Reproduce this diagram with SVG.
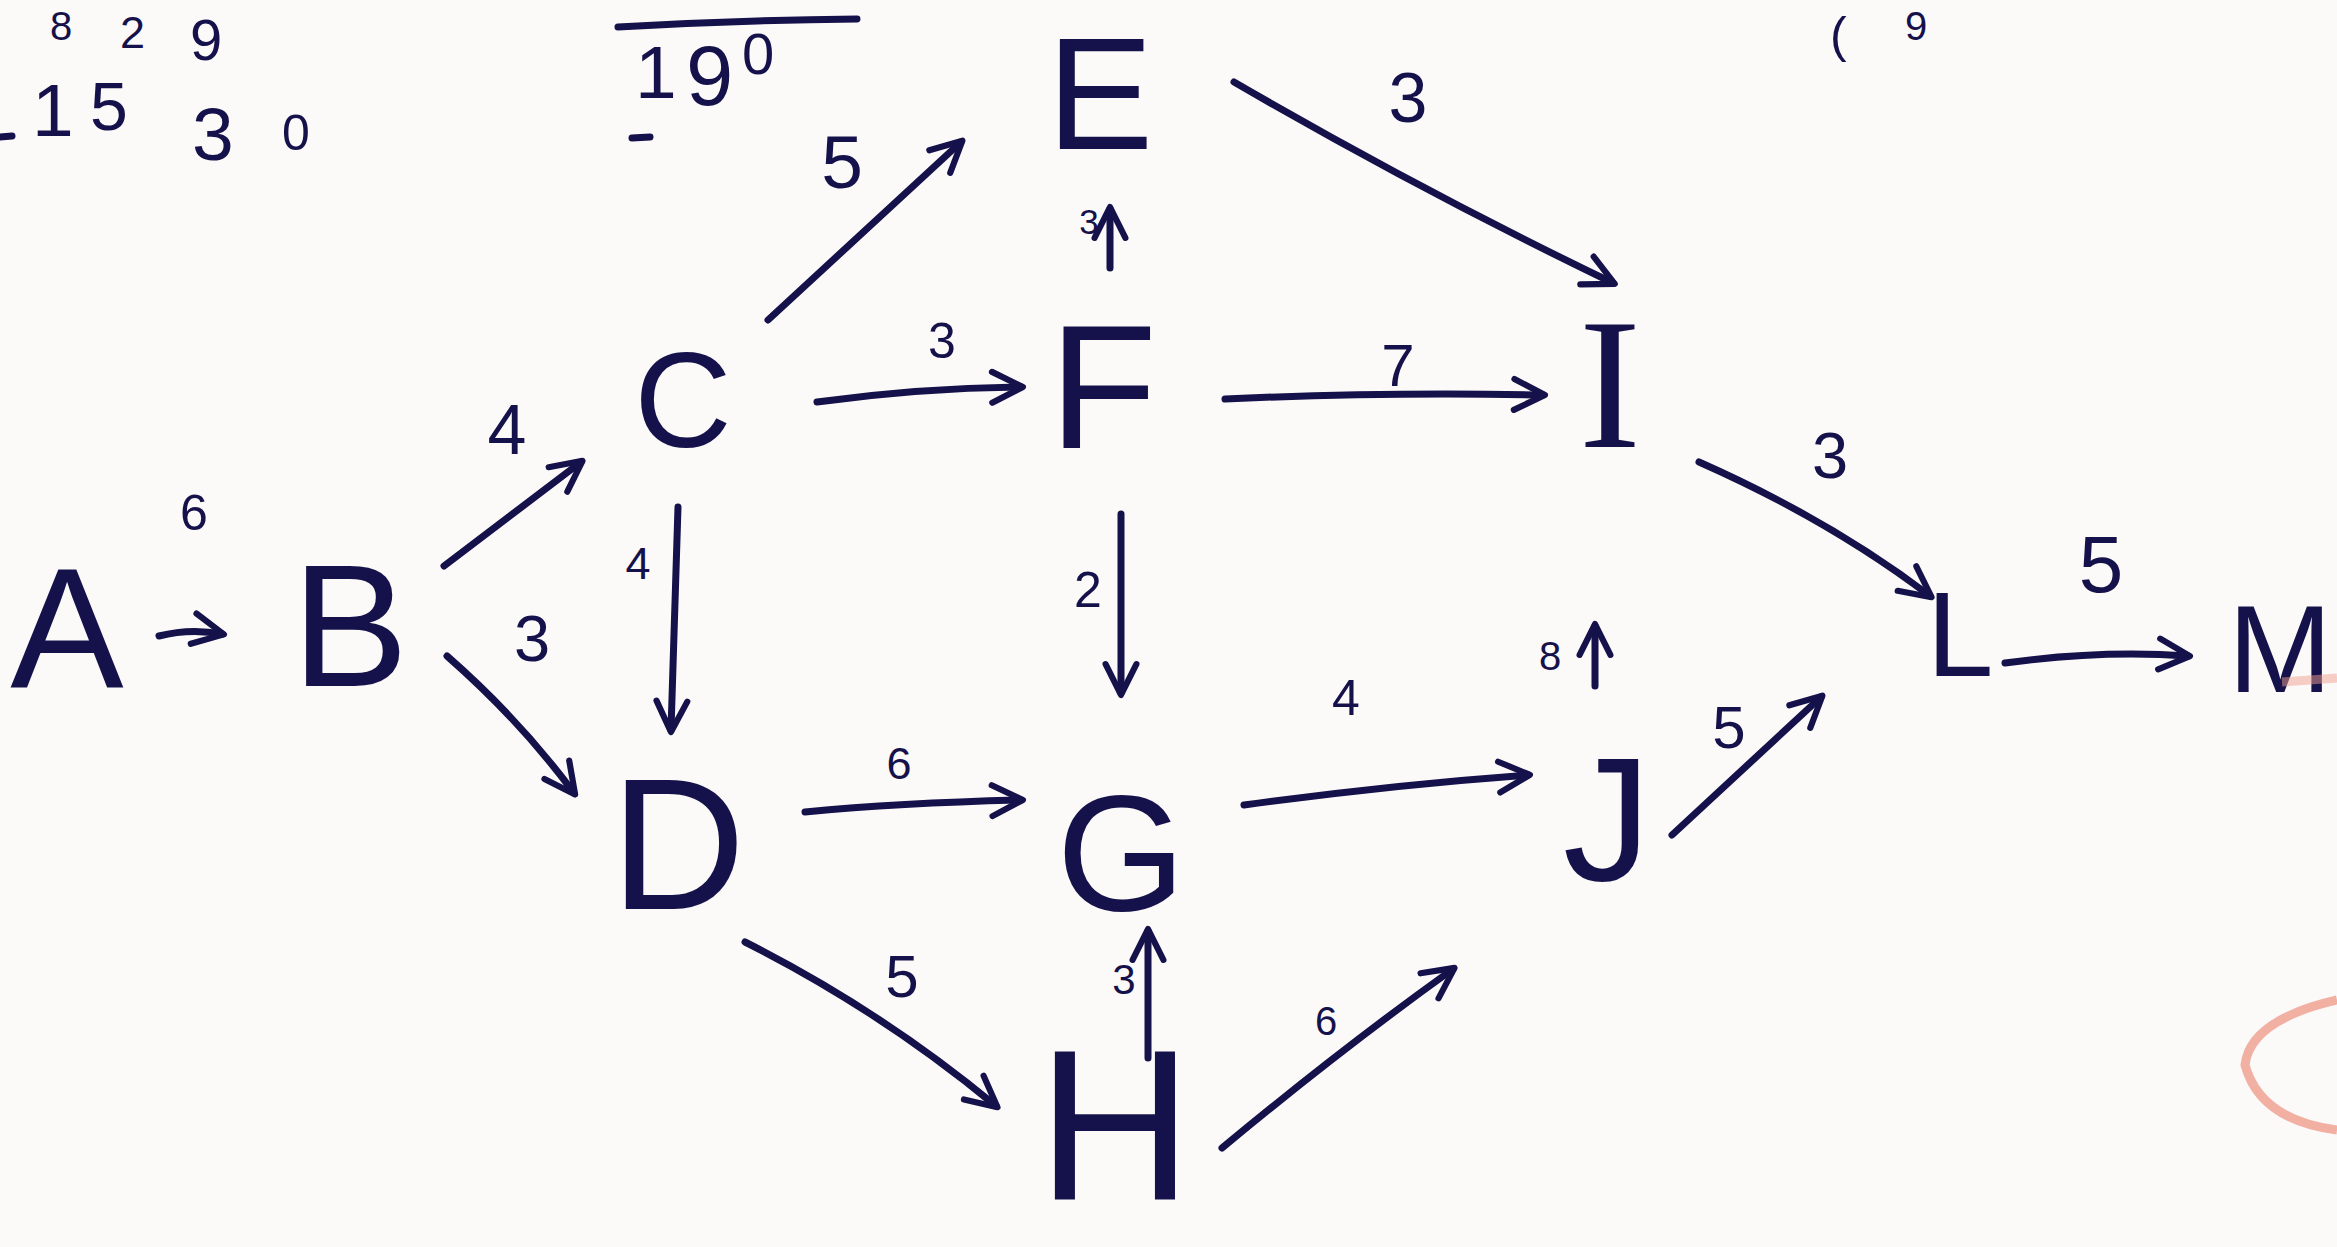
<svg xmlns="http://www.w3.org/2000/svg" width="2337" height="1247" viewBox="0 0 2337 1247">
<defs>
<marker id="ah" viewBox="0 0 10 10" refX="8.5" refY="5" markerWidth="5.5" markerHeight="5.5" orient="auto" markerUnits="strokeWidth">
<path d="M1,1 L9,5 L1,9" fill="none" stroke="#15114a" stroke-width="1.6" stroke-linejoin="round" stroke-linecap="round"/>
</marker>
<style>
.node{font-family:"Liberation Sans",Arial,sans-serif;font-weight:400;fill:#15114a;text-anchor:middle}
.serif{font-family:"Liberation Serif",serif;font-weight:400}
.lbl{font-family:"Liberation Sans",Arial,sans-serif;font-weight:400;fill:#15114a;text-anchor:middle}
.note{font-family:"Liberation Sans",Arial,sans-serif;font-weight:400;fill:#15114a}
.edge{fill:none;stroke:#15114a;stroke-width:7;stroke-linecap:round;marker-end:url(#ah)}
.plain{fill:none;stroke:#15114a;stroke-width:7;stroke-linecap:round}
</style>
</defs>
<rect width="2337" height="1247" fill="#fcfaf9"/>

<g id="notes">
<text class="note" x="50" y="40" font-size="40">8</text>
<text class="note" x="120" y="48" font-size="45">2</text>
<text class="note" x="190" y="60" font-size="58">9</text>
<text class="note" x="32" y="136" font-size="75">1</text>
<text class="note" x="90" y="130" font-size="68">5</text>
<text class="note" x="192" y="160" font-size="75">3</text>
<text class="note" x="282" y="150" font-size="50">0</text>
<path class="plain" d="M0,137 L12,136"/>
<path class="plain" d="M618,27 Q740,20 857,19"/>
<text class="note" x="635" y="98" font-size="75">1</text>
<text class="note" x="686" y="105" font-size="85">9</text>
<text class="note" x="742" y="74" font-size="58">0</text>
<path class="plain" d="M632,138 L650,137"/>
<text class="note" x="1830" y="52" font-size="50">(</text>
<text class="note" x="1905" y="40" font-size="40">9</text>
</g>

<g id="connectors">
<path class="edge" d="M159,636 Q190,628 222,634"/>
<text class="lbl" x="194" y="530" font-size="50">6</text>
<path class="edge" d="M444,566 L581,462"/>
<text class="lbl" x="507" y="454" font-size="70">4</text>
<path class="edge" d="M447,656 Q520,720 574,793"/>
<text class="lbl" x="532" y="661" font-size="65">3</text>
<path class="edge" d="M768,320 L961,142"/>
<text class="lbl" x="842" y="188" font-size="75">5</text>
<path class="edge" d="M817,402 Q920,388 1021,387"/>
<text class="lbl" x="942" y="358" font-size="50">3</text>
<path class="edge" d="M678,507 L671,730"/>
<text class="lbl" x="638" y="579" font-size="45">4</text>
<path class="edge" d="M805,812 Q900,803 1021,800"/>
<text class="lbl" x="899" y="779" font-size="45">6</text>
<path class="edge" d="M745,942 Q880,1010 996,1106"/>
<text class="lbl" x="902" y="997" font-size="60">5</text>
<path class="edge" d="M1234,82 Q1420,190 1613,283"/>
<text class="lbl" x="1408" y="122" font-size="70">3</text>
<path class="edge" d="M1110,268 L1110,209"/>
<text class="lbl" x="1089" y="234" font-size="35">3</text>
<path class="edge" d="M1225,399 Q1380,392 1543,395"/>
<text class="lbl" x="1398" y="386" font-size="60">7</text>
<path class="edge" d="M1121,514 L1121,693"/>
<text class="lbl" x="1088" y="607" font-size="50">2</text>
<path class="edge" d="M1244,805 Q1390,785 1528,775"/>
<text class="lbl" x="1346" y="715" font-size="50">4</text>
<path class="edge" d="M1148,1058 L1148,931"/>
<text class="lbl" x="1124" y="994" font-size="42">3</text>
<path class="edge" d="M1222,1148 Q1340,1050 1453,969"/>
<text class="lbl" x="1326" y="1035" font-size="40">6</text>
<path class="edge" d="M1699,462 Q1830,520 1930,596"/>
<text class="lbl" x="1830" y="478" font-size="65">3</text>
<path class="edge" d="M1595,686 L1595,626"/>
<text class="lbl" x="1550" y="670" font-size="40">8</text>
<path class="edge" d="M1672,835 L1821,697"/>
<text class="lbl" x="1729" y="748" font-size="60">5</text>
<path class="edge" d="M2005,663 Q2100,650 2188,656"/>
<text class="lbl" x="2101" y="592" font-size="80">5</text>
</g>

<g id="node-A"><text class="node" x="67" y="687" font-size="170">A</text></g>
<g id="node-B"><text class="node" x="350" y="686" font-size="175">B</text></g>
<g id="node-C"><text class="node" x="683" y="447" font-size="135">C</text></g>
<g id="node-D"><text class="node" x="678" y="909" font-size="187">D</text></g>
<g id="node-E"><text class="node" x="1100" y="149" font-size="160">E</text></g>
<g id="node-F"><text class="node" x="1103" y="448" font-size="177">F</text></g>
<g id="node-G"><text class="node" x="1121" y="910" font-size="166">G</text></g>
<g id="node-H"><text class="node" x="1115" y="1200" font-size="215">H</text></g>
<g id="node-I"><text class="node serif" x="1610" y="447" font-size="187">I</text></g>
<g id="node-J"><text class="node" x="1607" y="880" font-size="177">J</text></g>
<g id="node-L"><text class="node" x="1960" y="676" font-size="120">L</text></g>
<g id="node-M"><text class="node" x="2228" y="692" font-size="125" style="text-anchor:start">M</text></g>

<g id="marks">
<path d="M2337,1000 Q2250,1020 2245,1065 Q2260,1120 2337,1130" fill="none" stroke="#e8735a" stroke-width="9" stroke-opacity="0.55"/>
<path d="M2282,682 L2337,678" fill="none" stroke="#f0a090" stroke-width="9" stroke-opacity="0.5"/>
</g>
</svg>
